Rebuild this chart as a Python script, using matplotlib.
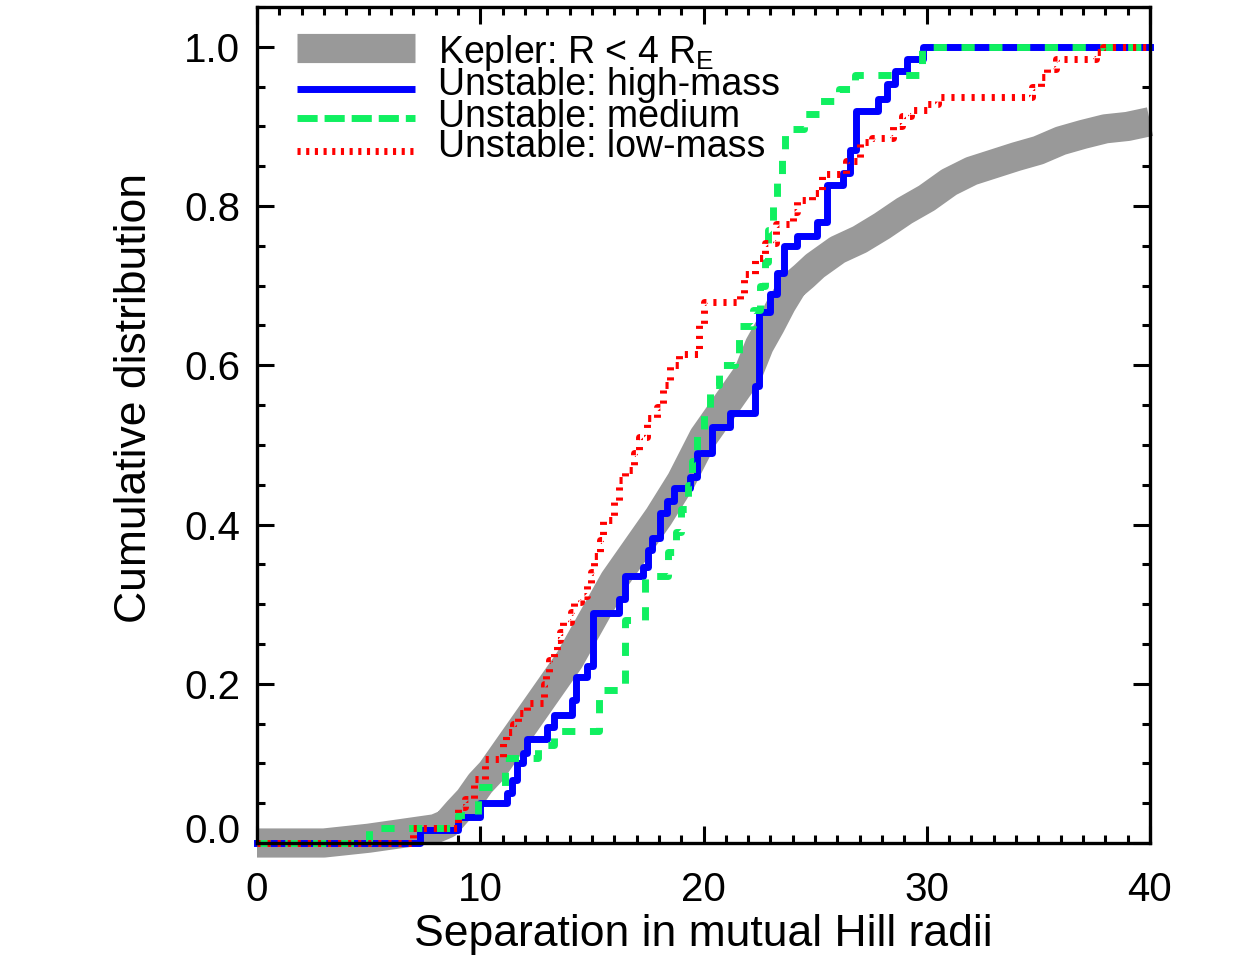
import matplotlib
matplotlib.use('Agg')
import matplotlib.pyplot as plt
from matplotlib.ticker import MultipleLocator, FormatStrFormatter

plt.rcParams['font.family'] = ['Liberation Sans', 'DejaVu Sans']
plt.rcParams['mathtext.fontset'] = 'custom'
plt.rcParams['mathtext.rm'] = 'Liberation Sans'
plt.rcParams['mathtext.it'] = 'Liberation Sans:italic'

# Kepler observed pairs (R < 4 R_E), sampled along the curve
kepler_x = [0, 3, 4, 5, 6, 7, 8, 8.5, 9, 9.5, 10, 10.5, 11, 11.5, 12, 13, 14, 15, 16,
            17, 18, 19, 20, 21, 22, 22.5, 23, 23.5, 24, 24.5, 25, 26, 27, 28, 29, 30,
            31, 32, 33, 34, 35, 36, 37, 38, 39, 40]
kepler_y = [0, 0, 0.003, 0.006, 0.01, 0.014, 0.018, 0.024, 0.04, 0.055, 0.075, 0.09, 0.11,
            0.13, 0.15, 0.19, 0.23, 0.28, 0.33, 0.37, 0.41, 0.455, 0.51, 0.55, 0.59,
            0.625, 0.65, 0.677, 0.70, 0.712, 0.725, 0.745, 0.758, 0.775, 0.794, 0.81,
            0.83, 0.844, 0.853, 0.862, 0.87, 0.882, 0.89, 0.897, 0.90, 0.906]

# unstable systems, step positions and cumulative values
high_x = [0, 7.3, 9.0, 10.0, 11.2, 11.4, 11.65, 11.9, 12.1, 13.0, 13.3, 14.1, 14.3, 14.8,
          15.05, 16.2, 16.5, 17.3, 17.5, 17.7, 18.05, 18.35, 18.7, 19.4, 19.7, 20.4,
          21.2, 22.3, 22.5, 23.0, 23.3, 23.6, 24.2, 25.1, 25.55, 26.25, 26.55, 26.85,
          27.8, 28.2, 28.6, 29.1, 29.85, 40]
high_y = [0, 0.016, 0.033, 0.05, 0.063, 0.079, 0.1, 0.113, 0.13, 0.146, 0.161, 0.18,
          0.209, 0.222, 0.289, 0.306, 0.335, 0.347, 0.368, 0.383, 0.415, 0.43, 0.446,
          0.46, 0.49, 0.523, 0.54, 0.574, 0.667, 0.69, 0.716, 0.75, 0.762, 0.78, 0.827,
          0.842, 0.87, 0.92, 0.934, 0.953, 0.97, 0.985, 1.0, 1.0]

med_x = [0, 5.0, 9.0, 9.9, 11.1, 12.6, 13.3, 15.3, 16.5, 17.4, 18.4, 18.75, 19.0, 19.3,
         19.5, 19.7, 20.0, 20.3, 20.7, 21.4, 21.6, 22.2, 22.55, 22.75, 22.9, 23.1, 23.3,
         23.5, 23.65, 23.85, 24.5, 25.2, 26.05, 26.8, 29.8, 40]
med_y = [0, 0.019, 0.035, 0.07, 0.107, 0.123, 0.141, 0.192, 0.28, 0.335, 0.365, 0.39,
         0.42, 0.45, 0.48, 0.515, 0.545, 0.575, 0.6, 0.615, 0.649, 0.67, 0.70, 0.73,
         0.77, 0.80, 0.83, 0.865, 0.897, 0.897, 0.916, 0.932, 0.947, 0.965, 1.0, 1.0]

low_x = [0, 7.0, 9.0, 9.3, 9.7, 10.2, 11.0, 11.15, 11.45, 11.7, 12.1, 12.85, 12.95, 13.1,
         13.3, 13.45, 13.55, 13.7, 14.05, 14.2, 14.5, 14.8, 14.95, 15.1, 15.35, 15.5,
         16.0, 16.2, 16.5, 16.9, 17.1, 17.45, 17.9, 18.2, 18.5, 18.9, 19.8, 20.0, 21.65,
         21.8, 22.3, 22.75, 23.25, 24.0, 24.2, 24.85, 25.3, 26.4, 27.0, 27.55, 28.5,
         28.9, 29.3, 30.0, 30.5, 34.7, 35.1, 35.4, 35.8, 37.6, 37.9, 40]
low_y = [0, 0.019, 0.045, 0.055, 0.08, 0.105, 0.125, 0.14, 0.15, 0.163, 0.176, 0.2,
         0.214, 0.23, 0.243, 0.255, 0.265, 0.278, 0.29, 0.303, 0.31, 0.327, 0.34, 0.36,
         0.38, 0.406, 0.43, 0.456, 0.469, 0.49, 0.51, 0.534, 0.548, 0.575, 0.6, 0.614,
         0.65, 0.679, 0.69, 0.715, 0.735, 0.754, 0.777, 0.793, 0.808, 0.817, 0.84, 0.856,
         0.88, 0.886, 0.9, 0.913, 0.921, 0.928, 0.937, 0.95, 0.962, 0.972, 0.985, 0.993,
         1.0, 1.0]

labels = [r'Kepler: R < 4 R$_\mathrm{E}$', 'Unstable: high-mass',
          'Unstable: medium', 'Unstable: low-mass']

GRAY = '#999999'
BLUE = '#0000ff'
GREEN = '#10f060'
RED = '#ff0000'


def main():
    fig = plt.figure(figsize=(12.4, 9.61), dpi=100)
    ax = fig.add_axes([257 / 1240, 118 / 961, 893 / 1240, 836 / 961])

    ax.plot(kepler_x, kepler_y, color=GRAY, lw=21, solid_capstyle='butt',
            clip_on=False)
    ax.step(high_x, high_y, where='post', color=BLUE, lw=5, clip_on=False)
    ax.step(med_x, med_y, where='post', color=GREEN, lw=5,
            linestyle=(0, (1.9, 2.1)), clip_on=False)
    ax.step(low_x, low_y, where='post', color=RED, lw=5,
            linestyle=(0, (0.45, 1.0)), clip_on=False)

    ax.set_xlim(0, 40)
    ax.set_ylim(0, 1.05)
    ax.xaxis.set_major_locator(MultipleLocator(10))
    ax.xaxis.set_minor_locator(MultipleLocator(1))
    ax.yaxis.set_major_locator(MultipleLocator(0.2))
    ax.yaxis.set_minor_locator(MultipleLocator(0.05))
    ax.yaxis.set_major_formatter(FormatStrFormatter('%.1f'))

    ax.tick_params(which='both', direction='in', top=True, right=True, width=2.2,
                   labelsize=29)
    ax.tick_params(which='major', length=12)
    ax.tick_params(which='minor', length=6)
    ax.tick_params(axis='x', pad=20)
    ax.tick_params(axis='y', pad=12)
    for spine in ax.spines.values():
        spine.set_linewidth(2.4)

    ax.set_xlabel('Separation in mutual Hill radii', fontsize=32)
    ax.xaxis.set_label_coords(0.5, -0.085)
    ax.set_ylabel('Cumulative distribution', fontsize=32)
    ax.yaxis.set_label_coords(-0.114, 0.532)

    # legend drawn by hand in axes coordinates
    tr = ax.transAxes
    ax.plot([0.045, 0.177], [0.951, 0.951], transform=tr, color=GRAY, lw=21,
            solid_capstyle='butt')
    ax.plot([0.045, 0.177], [0.902, 0.902], transform=tr, color=BLUE, lw=5,
            solid_capstyle='butt')
    ax.plot([0.045, 0.177], [0.867, 0.867], transform=tr, color=GREEN, lw=5,
            linestyle=(0, (2.9, 1.0)))
    ax.plot([0.045, 0.177], [0.828, 0.828], transform=tr, color=RED, lw=5,
            linestyle=(0, (0.45, 0.8)))
    for label, ypos in zip(labels, [0.933, 0.895, 0.856, 0.821]):
        ax.text(0.2027, ypos, label, transform=tr, fontsize=27, va='baseline',
                ha='left')

    # the 0.0 label sits on the axis line, as in the original
    fig.canvas.draw()
    for tick in ax.yaxis.get_major_ticks():
        if abs(tick.get_loc()) < 1e-9:
            tick.label1.set_va('baseline')

    fig.savefig('out.png', dpi=100)


if __name__ == '__main__':
    main()
